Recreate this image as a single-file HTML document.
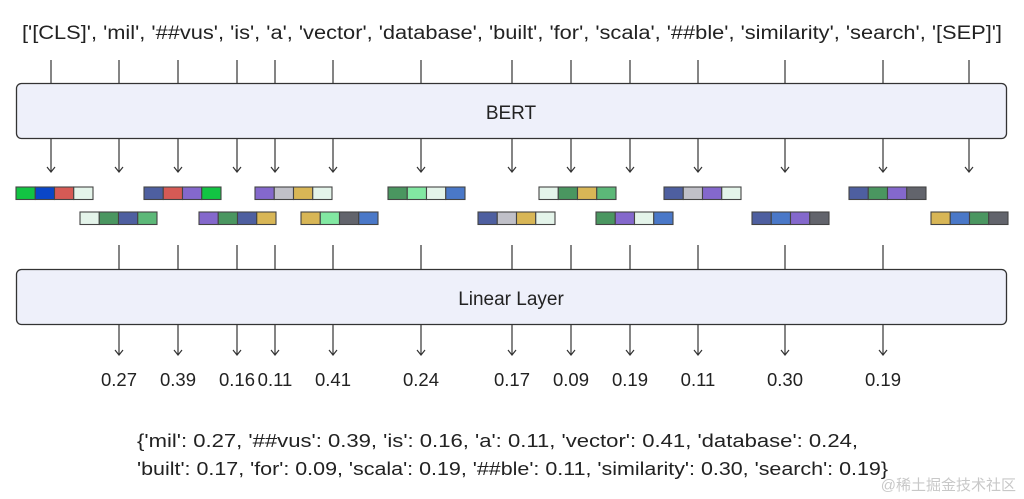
<!DOCTYPE html>
<html><head><meta charset="utf-8"><style>
html,body{margin:0;padding:0;background:#fff;width:1024px;height:499px;overflow:hidden}
svg text{font-family:"Liberation Sans","Noto Sans CJK SC",sans-serif;fill:#222}
</style></head><body>
<svg id="d" width="1024" height="499" viewBox="0 0 1024 499">
<text x="22" y="39" font-size="19" textLength="980" lengthAdjust="spacingAndGlyphs">['[CLS]', 'mil', '##vus', 'is', 'a', 'vector', 'database', 'built', 'for', 'scala', '##ble', 'similarity', 'search', '[SEP]']</text>
<rect x="16.5" y="83.5" width="990" height="55" rx="5" fill="#eef0fa" stroke="#333" stroke-width="1.3"/>
<text x="511" y="119" font-size="19" text-anchor="middle">BERT</text>
<rect x="16.5" y="269.5" width="990" height="55" rx="5" fill="#eef0fa" stroke="#333" stroke-width="1.3"/>
<text x="511" y="305" font-size="19" text-anchor="middle">Linear Layer</text>
<text x="137" y="447" font-size="18" textLength="721" lengthAdjust="spacingAndGlyphs">{'mil': 0.27, '##vus': 0.39, 'is': 0.16, 'a': 0.11, 'vector': 0.41, 'database': 0.24,</text>
<text x="137" y="475" font-size="18" textLength="751" lengthAdjust="spacingAndGlyphs">'built': 0.17, 'for': 0.09, 'scala': 0.19, '##ble': 0.11, 'similarity': 0.30, 'search': 0.19}</text>
<text x="1016" y="490" font-size="15" text-anchor="end" style="fill:#c8c8c8">@稀土掘金技术社区</text>
<g id="g"></g>
</svg>
<script>
const tokenX=[51,119,178,237,275,333,421,512,571,630,698,785,883,969];
const weights=[null,0.27,0.39,0.16,0.11,0.41,0.24,0.17,0.09,0.19,0.11,0.30,0.19,null];
const C={g:'#12c443',b:'#0a46c8',r:'#d65a55',pa:'#e4f4ea',s:'#4e5fa0',pu:'#8468cc',gr:'#c0c0c8',go:'#d8b656',dg:'#4a9660',lg:'#82e8a2',mg:'#5cb878',dk:'#62646c',b2:'#4a78c8'};
const row1X=[16,144,255,388,539,664,849];
const row1C=[['g','b','r','pa'],['s','r','pu','g'],['pu','gr','go','pa'],['dg','lg','pa','b2'],['pa','dg','go','mg'],['s','gr','pu','pa'],['s','dg','pu','dk']];
const row2X=[80,199,301,478,596,752,931];
const row2C=[['pa','dg','s','mg'],['pu','dg','s','go'],['go','lg','dk','b2'],['s','gr','go','pa'],['dg','pu','pa','b2'],['s','b2','pu','dk'],['go','b2','dg','dk']];
const NS='http://www.w3.org/2000/svg';
const g=document.getElementById('g');
function mk(t,a){const e=document.createElementNS(NS,t);for(const k in a)e.setAttribute(k,a[k]);g.appendChild(e);return e;}
function arrow(x,y1,y2){
 const l=mk('line',{x1:x,y1:y1,x2:x,y2:y2,stroke:'#333','stroke-width':1.2});
 
 
 const p=mk('polyline',{points:`${x-4},${y2-5} ${x},${y2} ${x+4},${y2-5}`,fill:'none',stroke:'#333','stroke-width':1.2});
 
 
}
tokenX.forEach((x,i)=>{
 const l=mk('line',{x1:x,y1:60,x2:x,y2:83,stroke:'#333','stroke-width':1.2});
 
 
 arrow(x,139,172);
 if(weights[i]!==null){
  const l2=mk('line',{x1:x,y1:245,x2:x,y2:269,stroke:'#333','stroke-width':1.2});
  
  
  arrow(x,325,355);
  const t=mk('text',{x:x,y:386,'font-size':18.5,'text-anchor':'middle'});
  t.textContent=weights[i].toFixed(2);
  
  
 }
});
function blocks(xs,cs,y){
 xs.forEach((x,i)=>{
  cs[i].forEach((c,j)=>{
   const r=mk('rect',{x:x+j*19.25,y:y,width:19.25,height:12.5,fill:C[c],stroke:'#444','stroke-width':1.1});
   
   
  });
 });
}
blocks(row1X,row1C,187);
blocks(row2X,row2C,212);
</script>
</body></html>
